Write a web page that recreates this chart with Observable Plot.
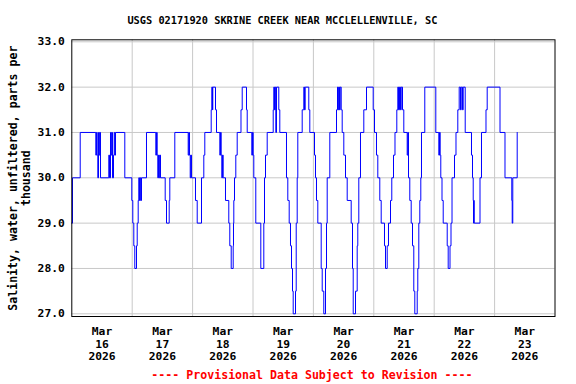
<!DOCTYPE html>
<html>
<head>
<meta charset="utf-8">
<script src="https://cdn.jsdelivr.net/npm/d3@7"></script>
<script src="https://cdn.jsdelivr.net/npm/@observablehq/plot@0.6"></script>
<style>
  html, body { margin: 0; padding: 0; background: #fff; }
</style>
</head>
<body>
<div id="chart"></div>
<script>
// ---- text ----
const title = "USGS 02171920 SKRINE CREEK NEAR MCCLELLENVILLE, SC";
const yLabelLines = ["Salinity, water, unfiltered, parts per", "thousand"];
const footer = "---- Provisional Data Subject to Revision ----";

// ---- axes ----
const dayLabels = ["Mar\n16\n2026", "Mar\n17\n2026", "Mar\n18\n2026", "Mar\n19\n2026",
                   "Mar\n20\n2026", "Mar\n21\n2026", "Mar\n22\n2026", "Mar\n23\n2026"];
const yTicks = [27, 28, 29, 30, 31, 32, 33];

// ---- data: hours since 2026-03-16 00:00, salinity (ppt) from that time on ----
const hours = [
  0.00, 0.28, 3.34, 9.54, 9.81, 10.09, 10.33, 10.61, 10.89, 11.13, 11.40,
  14.70, 14.98, 15.38, 15.66, 15.89, 16.17, 16.57, 16.85, 17.09, 17.36,
  21.06, 23.84, 24.24, 24.64, 25.03, 25.71, 25.99, 26.38, 26.62, 26.90, 27.18, 27.42, 27.70,
  29.68, 33.38, 33.66, 33.93, 34.17, 34.45, 34.73, 34.97, 35.25,
  37.11, 37.63, 38.70, 38.94, 40.93,
  46.25, 46.49, 46.77, 47.05, 47.28, 47.56,
  49.15, 49.83, 51.54, 52.45, 52.85, 55.39, 55.63, 55.91, 56.03, 57.10, 57.50,
  58.81, 59.09, 59.36, 59.60, 59.88, 60.16,
  61.07, 62.38, 62.78, 63.34, 64.13, 64.25, 64.37, 64.65, 65.17, 65.72,
  67.23, 67.71, 69.42, 69.70, 71.52, 71.80, 72.08, 72.32,
  73.11, 75.10, 76.29, 76.57, 76.97, 77.64,
  80.03, 80.26, 80.54, 80.82, 81.06, 81.34, 82.25, 82.65,
  85.31, 85.83, 86.38, 86.90, 87.30, 87.70, 87.97, 88.89, 89.17, 89.56, 89.80,
  91.55, 92.19, 92.46, 92.74, 94.17, 94.57,
  96.44, 96.83, 97.23, 97.75, 99.10, 99.50, 100.13, 100.81, 101.21, 101.48, 102.52,
  105.18, 105.58, 105.86, 106.09, 106.37, 106.65, 107.05, 107.44,
  108.08, 108.76, 109.43, 111.02, 111.54, 111.82, 112.73, 113.40, 113.64, 114.04, 114.71,
  116.03, 117.10, 119.76, 120.28,
  121.07, 121.59, 122.38, 122.94, 124.25, 124.65, 125.33, 125.84, 126.64, 127.15, 127.83, 128.42,
  129.14, 129.54, 129.81, 130.21, 130.61, 130.89, 131.41, 131.92,
  133.27, 133.51, 133.79, 134.30, 134.86, 135.38, 135.89, 136.29, 137.25, 137.48, 137.88, 138.28, 138.68, 138.95,
  140.26, 144.64,
  145.83, 146.11, 146.38, 146.62, 147.10, 147.58, 149.17, 149.56, 150.28, 150.68, 151.08,
  152.07, 152.66, 153.38, 153.93, 154.45, 154.73, 155.25, 155.52, 156.32,
  158.82, 159.22, 159.50, 159.62, 159.74, 159.89, 162.20, 162.79,
  164.58, 165.06, 170.15, 172.13, 174.83, 175.00, 175.23, 176.98
];
const salinity = [
  29.0, 30.0, 31.0, 30.5, 31.0, 30.5, 30.0, 31.0, 30.5, 31.0, 30.0,
  30.5, 30.0, 31.0, 30.5, 31.0, 30.0, 30.5, 31.0, 30.5, 31.0,
  30.0, 29.5, 29.0, 28.5, 28.0, 28.5, 29.0, 29.5, 30.0, 29.5, 30.0, 29.5, 30.0,
  31.0, 30.5, 31.0, 30.5, 30.0, 30.5, 30.0, 30.5, 30.0,
  29.5, 29.0, 29.5, 30.0, 31.0,
  30.5, 31.0, 30.5, 30.0, 30.5, 30.0,
  29.5, 29.0, 30.0, 30.5, 31.0, 31.5, 32.0, 31.5, 32.0, 31.5, 31.0,
  30.5, 31.0, 30.5, 30.0, 30.5, 30.0,
  29.5, 29.0, 28.5, 28.0, 28.5, 29.0, 29.5, 30.0, 30.5, 31.0,
  31.5, 32.0, 31.5, 31.0, 30.5, 31.0, 30.5, 30.0,
  29.0, 28.0, 29.0, 30.0, 30.5, 31.0,
  31.5, 32.0, 31.5, 32.0, 31.0, 32.0, 31.5, 31.0,
  30.0, 29.5, 29.0, 28.5, 28.0, 27.5, 27.0, 27.5, 29.0, 30.0, 31.0,
  31.5, 32.0, 31.5, 32.0, 31.5, 31.0,
  30.5, 30.0, 29.5, 29.0, 28.0, 27.5, 27.0, 28.0, 29.0, 30.0, 31.0,
  31.5, 32.0, 31.5, 32.0, 31.5, 32.0, 31.5, 31.0,
  30.5, 30.0, 29.5, 29.0, 28.0, 27.0, 27.5, 28.5, 29.0, 30.0, 31.0,
  31.5, 32.0, 31.5, 31.0,
  30.5, 30.0, 29.5, 29.0, 28.5, 28.0, 28.5, 29.0, 29.5, 30.0, 30.5, 31.0,
  31.5, 32.0, 31.5, 32.0, 31.5, 32.0, 31.5, 31.0,
  30.5, 31.0, 30.0, 29.5, 29.0, 28.5, 27.5, 27.0, 27.5, 28.0, 29.0, 29.5, 30.0, 31.0,
  32.0, 31.0,
  30.5, 31.0, 30.5, 30.0, 29.5, 29.0, 28.5, 28.0, 28.5, 29.0, 30.0,
  30.5, 31.0, 31.5, 32.0, 31.5, 32.0, 31.5, 32.0, 31.0,
  30.5, 30.0, 29.5, 29.0, 29.5, 29.0, 30.0, 31.0,
  31.5, 32.0, 31.0, 30.0, 29.5, 29.0, 30.0, 31.0
];

const HOUR = 3600000, DAY = 24 * HOUR;
const t0 = Date.UTC(2026, 2, 16);
const data = hours.map((h, i) => ({ t: new Date(t0 + h * HOUR), v: salinity[i] }));
const midnights = d3.range(1, 8).map(d => new Date(t0 + d * DAY));
const noons = d3.range(0, 8).map(d => new Date(t0 + d * DAY + DAY / 2));

const font = "'DejaVu Sans Mono', 'Liberation Mono', monospace";

const chart = Plot.plot({
  width: 576,
  height: 384,
  marginLeft: 71.3,
  marginRight: 21.5,
  marginTop: 39.3,
  marginBottom: 68,
  insetTop: 2,
  insetBottom: 2.7,
  style: { fontFamily: font, fontWeight: "bold", fontSize: "11.3px", background: "#fff", color: "#000", overflow: "visible" },
  x: { type: "utc", domain: [new Date(t0), new Date(t0 + 8 * DAY)] },
  y: { domain: [27, 33] },
  marks: [
    Plot.gridY(yTicks, { stroke: "#c8c8c8", strokeOpacity: 1, strokeWidth: 1 }),
    Plot.gridX(midnights, { stroke: "#c8c8c8", strokeOpacity: 1, strokeWidth: 1 }),
    Plot.line(data, { x: "t", y: "v", curve: "step-after", stroke: "#0000ff", strokeWidth: 1 }),
    Plot.frame({ stroke: "#000", strokeWidth: 1 }),
    Plot.axisY(yTicks, { tickSize: 0, tickPadding: 7, tickFormat: d => d.toFixed(1), label: null }),
    Plot.axisX(noons, { tickSize: 0, tickPadding: 10, tickFormat: (d, i) => dayLabels[i], label: null, lineHeight: 1.1 }),
    Plot.text([title], { frameAnchor: "top", dx: -31, dy: -19.3, lineAnchor: "middle", textAnchor: "middle", fontSize: 10.3, fill: "#000" }),
    Plot.text([footer], { frameAnchor: "bottom", dx: -1.5, dy: 59, lineAnchor: "middle", textAnchor: "middle", fontSize: 11.6, fill: "#ff0000" }),
    Plot.text([yLabelLines[0]], { frameAnchor: "left", dx: -58.8, rotate: -90, lineAnchor: "middle", textAnchor: "middle", fontSize: 11.6, fill: "#000" }),
    Plot.text([yLabelLines[1]], { frameAnchor: "left", dx: -45.3, rotate: -90, lineAnchor: "middle", textAnchor: "middle", fontSize: 11.6, fill: "#000" })
  ]
});
document.getElementById("chart").appendChild(chart);
</script>
</body>
</html>
